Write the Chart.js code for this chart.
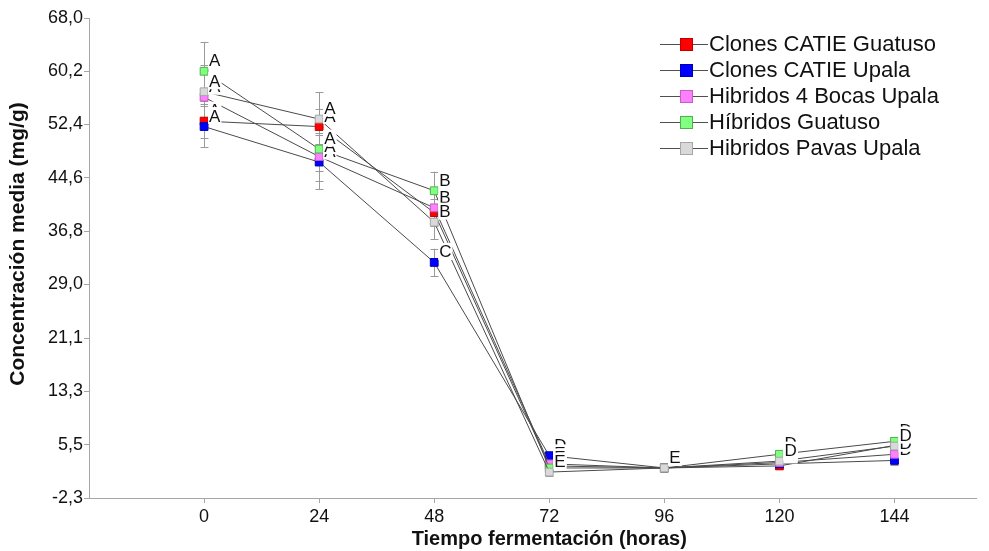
<!DOCTYPE html>
<html>
<head>
<meta charset="utf-8">
<title>Concentración media por tiempo de fermentación</title>
<script src="https://cdn.jsdelivr.net/npm/chart.js@4.4.1/dist/chart.umd.min.js"></script>
<style>
  html, body { margin: 0; padding: 0; background: #ffffff; }
</style>
</head>
<body>
<canvas id="fermChart" width="989" height="551"></canvas>
<script>
// tiempo de fermentación (horas)
var hours = [0, 24, 48, 72, 96, 120, 144];

var seriesNames = [
    'Clones CATIE Guatuso',
    'Clones CATIE Upala',
    'Hibridos 4 Bocas Upala',
    'Híbridos Guatuso',
    'Hibridos Pavas Upala'
];

// concentración media (mg/g)
var clonesGuatuso = [52.9, 52.1, 39.5, 2.4, 2.1, 2.4, 5.4];
var clonesUpala = [52.1, 46.9, 32.2, 3.9, 2.1, 2.7, 3.2];
var bocasUpala = [56.4, 47.7, 40.2, 2.7, 2.1, 2.9, 4.1];
var hibridosGuatuso = [60.2, 48.8, 42.7, 2.1, 2.1, 4.1, 6.0];
var pavasUpala = [57.2, 53.2, 38.1, 1.5, 2.1, 3.1, 5.3];

// error (+/-)
var errClonesGuatuso = [2.5, 2.5, 2.0, 0.5, 0.4, 0.5, 0.6];
var errClonesUpala = [3.0, 4.0, 2.0, 0.5, 0.4, 0.5, 0.6];
var errBocasUpala = [3.5, 3.5, 2.2, 0.5, 0.4, 0.5, 0.6];
var errHibridosGuatuso = [4.3, 3.2, 2.8, 0.5, 0.4, 0.5, 0.6];
var errPavasUpala = [3.9, 3.9, 2.5, 0.6, 0.4, 0.5, 0.6];

// letras de agrupación
var grpClonesGuatuso = ['A', 'A', 'B', 'E', 'E', 'D', 'D'];
var grpClonesUpala = ['A', 'A', 'C', 'D', 'E', 'D', 'D'];
var grpBocasUpala = ['A', 'A', 'B', 'E', 'E', 'D', 'D'];
var grpHibridosGuatuso = ['A', 'A', 'B', 'E', 'E', 'D', 'D'];
var grpPavasUpala = ['A', 'A', 'B', 'E', 'E', 'D', 'D'];

var yTicks = [-2.3, 5.5, 13.3, 21.1, 29.0, 36.8, 44.6, 52.4, 60.2, 68.0];

var xTitle = 'Tiempo fermentación (horas)';
var yTitle = 'Concentración media (mg/g)';

var values = [clonesGuatuso, clonesUpala, bocasUpala, hibridosGuatuso, pavasUpala];
var errors = [errClonesGuatuso, errClonesUpala, errBocasUpala, errHibridosGuatuso, errPavasUpala];
var groups = [grpClonesGuatuso, grpClonesUpala, grpBocasUpala, grpHibridosGuatuso, grpPavasUpala];

var fills = ['#ff0000', '#0000ff', '#ff80ff', '#80ff80', '#d9d9d9'];
var edges = ['#c00000', '#0000b0', '#c060c0', '#50b050', '#a6a6a6'];

var fontName = '"Liberation Sans", Arial, sans-serif';

// cada serie se dibuja encima de la anterior
var datasets = values.map(function (vals, k) {
    return {
        label: seriesNames[k],
        data: hours.map(function (h, i) { return { x: h, y: vals[i] }; }),
        order: values.length - 1 - k,
        borderColor: '#4a4a4a',
        borderWidth: 1,
        pointStyle: 'rect',
        pointRadius: 5.5,
        pointBackgroundColor: fills[k],
        pointBorderColor: edges[k],
        pointBorderWidth: 1,
        fill: false,
        tension: 0
    };
});

// barras de error verticales con remates
var errorBars = {
    id: 'errorBars',
    beforeDatasetsDraw: function (chart) {
        var ctx = chart.ctx;
        var yScale = chart.scales.y;
        ctx.save();
        ctx.strokeStyle = '#9a9a9a';
        ctx.lineWidth = 1;
        chart.data.datasets.forEach(function (ds, k) {
            var meta = chart.getDatasetMeta(k);
            meta.data.forEach(function (pt, i) {
                var v = values[k][i], e = errors[k][i];
                var x = Math.round(pt.x) + 0.5;
                var top = yScale.getPixelForValue(v + e);
                var bot = yScale.getPixelForValue(v - e);
                ctx.beginPath();
                ctx.moveTo(x, top);
                ctx.lineTo(x, bot);
                ctx.moveTo(x - 4, Math.round(top) + 0.5);
                ctx.lineTo(x + 4, Math.round(top) + 0.5);
                ctx.moveTo(x - 4, Math.round(bot) + 0.5);
                ctx.lineTo(x + 4, Math.round(bot) + 0.5);
                ctx.stroke();
            });
        });
        ctx.restore();
    }
};

// letras sobre fondo blanco, a la derecha de cada punto
var groupLetters = {
    id: 'groupLetters',
    afterDatasetsDraw: function (chart) {
        var ctx = chart.ctx;
        ctx.save();
        ctx.font = '17px ' + fontName;
        ctx.textBaseline = 'alphabetic';
        ctx.textAlign = 'left';
        chart.data.datasets.forEach(function (ds, k) {
            var meta = chart.getDatasetMeta(k);
            meta.data.forEach(function (pt, i) {
                var txt = groups[k][i];
                var w = ctx.measureText(txt).width;
                var tx = pt.x + 5;
                var cy = pt.y - 11;
                ctx.fillStyle = '#ffffff';
                ctx.fillRect(tx - 1, cy - 8.5, w + 2, 17);
                ctx.fillStyle = '#111111';
                ctx.fillText(txt, tx, cy + 6);
            });
        });
        ctx.restore();
    }
};

// títulos de los ejes
var axisTitles = {
    id: 'axisTitles',
    afterDraw: function (chart) {
        var ctx = chart.ctx;
        var xs = chart.scales.x;
        ctx.save();
        ctx.fillStyle = '#111111';
        ctx.textAlign = 'center';
        ctx.textBaseline = 'middle';
        ctx.font = 'bold 20px ' + fontName;
        var cx = (xs.getPixelForValue(hours[0]) + xs.getPixelForValue(hours[hours.length - 1])) / 2;
        ctx.fillText(xTitle, cx, 539);
        ctx.translate(18, 244);
        ctx.rotate(-Math.PI / 2);
        ctx.font = 'bold 21px ' + fontName;
        ctx.fillText(yTitle, 0, 0);
        ctx.restore();
    }
};

// leyenda: línea con marcador cuadrado
var lineLegend = {
    id: 'lineLegend',
    afterDraw: function (chart) {
        var ctx = chart.ctx;
        ctx.save();
        ctx.font = '22px ' + fontName;
        ctx.textBaseline = 'middle';
        seriesNames.forEach(function (name, k) {
            var y = 44 + k * 26;
            ctx.strokeStyle = '#505050';
            ctx.lineWidth = 1;
            ctx.beginPath();
            ctx.moveTo(660, Math.round(y) + 0.5);
            ctx.lineTo(708, Math.round(y) + 0.5);
            ctx.stroke();
            ctx.fillStyle = fills[k];
            ctx.fillRect(680, y - 6, 13, 13);
            ctx.strokeStyle = edges[k];
            ctx.strokeRect(680.5, y - 5.5, 12, 12);
            ctx.fillStyle = '#111111';
            ctx.fillText(name, 709, y + 1);
        });
        ctx.restore();
    }
};

new Chart(document.getElementById('fermChart'), {
    type: 'line',
    data: { datasets: datasets },
    options: {
        responsive: false,
        animation: false,
        layout: { padding: { top: 18, right: 13, bottom: 0, left: 0 } },
        plugins: {
            legend: { display: false },
            tooltip: { enabled: false }
        },
        scales: {
            x: {
                type: 'linear',
                min: -24,
                max: 161,
                afterBuildTicks: function (axis) {
                    axis.ticks = hours.map(function (v) { return { value: v }; });
                },
                afterFit: function (axis) { axis.height = 53; },
                ticks: {
                    color: '#111111',
                    font: { family: fontName, size: 18 },
                    padding: 3
                },
                grid: { drawOnChartArea: false, tickLength: 5, color: '#a6a6a6' },
                border: { color: '#a6a6a6' }
            },
            y: {
                min: -2.3,
                max: 68,
                afterBuildTicks: function (axis) {
                    axis.ticks = yTicks.map(function (v) { return { value: v }; });
                },
                afterFit: function (axis) { axis.width = 89; },
                ticks: {
                    color: '#111111',
                    font: { family: fontName, size: 18 },
                    padding: 1,
                    callback: function (v) { return v.toFixed(1).replace('.', ','); }
                },
                grid: { drawOnChartArea: false, tickLength: 5, color: '#a6a6a6' },
                border: { color: '#a6a6a6' }
            }
        }
    },
    plugins: [errorBars, groupLetters, axisTitles, lineLegend]
});
</script>
</body>
</html>
